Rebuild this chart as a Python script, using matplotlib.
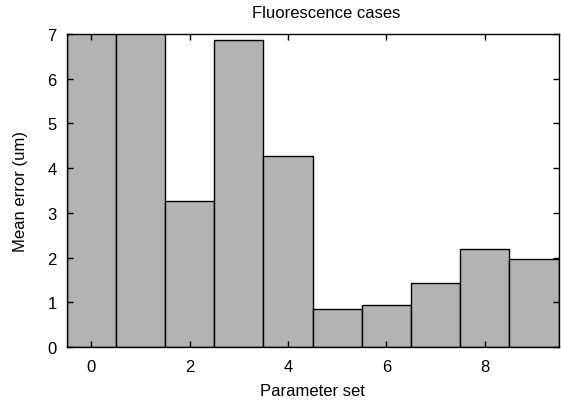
import numpy as np
import matplotlib.pyplot as plt

plt.rcParams['font.family'] = ['Liberation Sans', 'DejaVu Sans']

# parameter sets and their mean error
param_sets = np.arange(10)
mean_error = [7.6, 7.4, 3.27, 6.87, 4.27, 0.85, 0.95, 1.44, 2.19, 1.97]

fig = plt.figure(figsize=(5.61, 4.02), dpi=100)
ax = fig.add_axes([66.5 / 561, 54 / 402, 492 / 561, 313 / 402])

ax.bar(param_sets, mean_error, width=1.0, color='#b3b3b3',
       edgecolor='black', linewidth=1.0)

ax.set_xlim(-0.5, 9.5)
ax.set_ylim(0, 7)
ax.set_xticks([0, 2, 4, 6, 8])
ax.set_yticks(range(8))
ax.tick_params(direction='in', top=True, right=True, labelsize=12,
               length=4, width=1)
ax.tick_params(axis='x', pad=9)
ax.tick_params(axis='y', pad=7)
for s in ax.spines.values():
    s.set_linewidth(1.0)

ax.set_title('Fluorescence cases', fontsize=12, pad=12, x=0.528)
ax.set_xlabel('Parameter set', fontsize=12, labelpad=6)
ax.set_ylabel('Mean error (um)', fontsize=12, labelpad=14)

fig.savefig('out.png', dpi=100)
